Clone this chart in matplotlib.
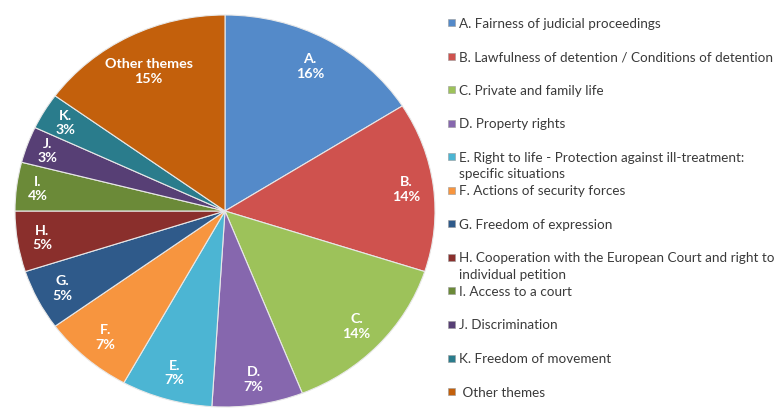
import matplotlib
matplotlib.use("Agg")
import matplotlib.pyplot as plt
from matplotlib.patches import Rectangle
import numpy as np

short_labels = ["A.", "B.", "C.", "D.", "E.", "F.", "G.", "H.", "I.", "J.", "K.", "Other themes"]
values = [16, 14, 14, 7, 7, 7, 5, 5, 4, 3, 3, 15]
legend_labels = [
    "A. Fairness of judicial proceedings",
    "B. Lawfulness of detention / Conditions of detention",
    "C. Private and family life",
    "D. Property rights",
    "E. Right to life - Protection against ill-treatment:\nspecific situations",
    "F. Actions of security forces",
    "G. Freedom of expression",
    "H. Cooperation with the European Court and right to\nindividual petition",
    "I. Access to a court",
    "J. Discrimination",
    "K. Freedom of movement",
    " Other themes",
]
colors = ["#548AC9", "#CF524E", "#9DC25A", "#8667AE", "#4CB5D3", "#F7953F",
          "#2F5A8A", "#8A2F2C", "#6B8A38", "#573F75", "#2A7C8C", "#C3600C"]

W, H = 776, 408
fig = plt.figure(figsize=(W / 100, H / 100), dpi=100)
fig.patch.set_facecolor("white")

ax = fig.add_axes([15 / W, 1 / H, 420 / W, 392 / H])
wedges, _ = ax.pie(values, colors=colors, startangle=90, counterclock=False,
                   radius=1.0, wedgeprops=dict(edgecolor="#e8e8e8", linewidth=0.8))
ax.set_aspect("auto")
ax.set_xlim(-1.0, 1.0)
ax.set_ylim(-1.0, 1.0)
ax.axis("off")

dists = [0.84, 0.87, 0.86, 0.87, 0.86, 0.86, 0.87, 0.88, 0.9, 0.9, 0.88, 0.8]
for w, lab, v, d in zip(wedges, short_labels, values, dists):
    ang = np.deg2rad((w.theta1 + w.theta2) / 2)
    ax.text(d * np.cos(ang), d * np.sin(ang), f"{lab}\n{v}%", ha="center", va="center",
            color="white", fontsize=10.3, fontweight="bold", family="Lato",
            linespacing=1.25)

# legend font size so the longest line is ~313 px wide
renderer = fig.canvas.get_renderer()
probe = fig.text(0, 0, legend_labels[1], fontsize=10, family="Lato")
wpx = probe.get_window_extent(renderer).width
probe.remove()
fs = 10 * 313.0 / wpx

y0 = 22.5
pitch = 33.55
for i, (lab, c) in enumerate(zip(legend_labels, colors)):
    y = y0 + i * pitch
    fig.patches.append(Rectangle((448 / W, 1 - (y + 3.5) / H), 7 / W, 7 / H,
                                 transform=fig.transFigure, facecolor=c,
                                 edgecolor="#9a9a9a", linewidth=0.4))
    fig.text(459 / W, 1 - (y - 5) / H, lab, ha="left", va="top", fontsize=fs,
             family="Lato", color="#3a3a3a", linespacing=1.45)

fig.savefig("out.png", dpi=100, facecolor="white")
